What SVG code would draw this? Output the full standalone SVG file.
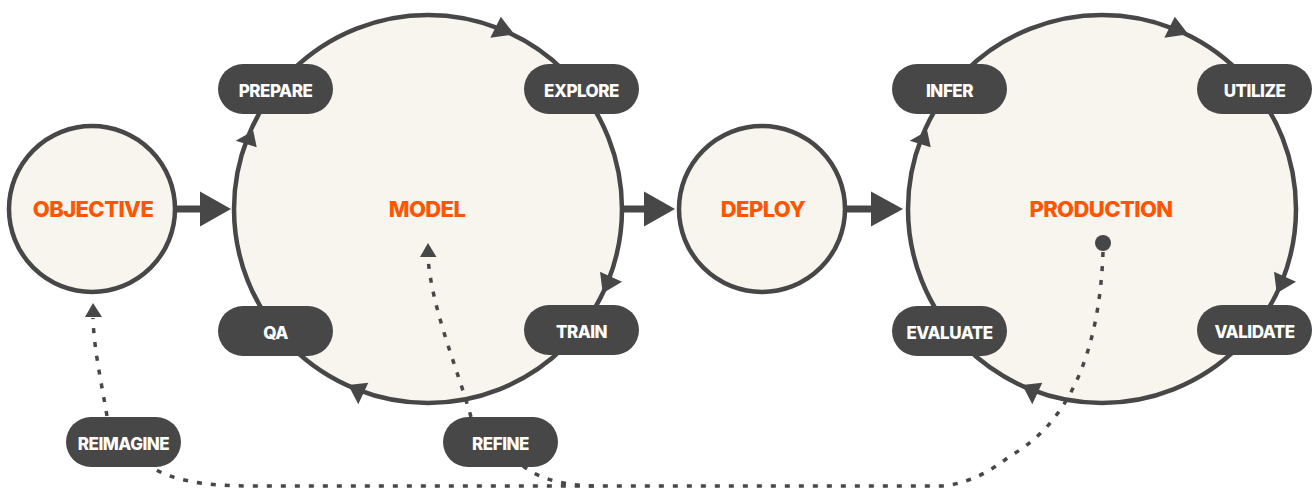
<svg xmlns="http://www.w3.org/2000/svg" width="1314" height="492" viewBox="0 0 1314 492">
<defs>
<style>
.stage{fill:#f8f5ef;stroke:#474747;stroke-width:4.5}
.title{font-family:Inter,"Liberation Sans",sans-serif;font-weight:800;font-size:22px;fill:#ff5500;text-anchor:middle;letter-spacing:-0.6px}
.pill rect{fill:#474747}
.pill text{font-family:Inter,"Liberation Sans",sans-serif;font-weight:800;font-size:17px;fill:#ffffff;text-anchor:middle;letter-spacing:-0.5px}
.flow{stroke:#474747;stroke-width:7;fill:none}
.head{fill:#474747}
.dash{stroke:#474747;stroke-width:3.5;fill:none;stroke-dasharray:5 9}
</style>
<g id="cycleArrows">
<polygon class="head" points="500.8,16.7 490.3,37.7 514.3,34.3"/>
<polygon class="head" points="253.3,130.7 235.7,140.7 256.7,147.3"/>
<polygon class="head" points="600,271.7 622,281.7 602.7,293.3"/>
<polygon class="head" points="348.3,385 368.3,382.7 358.3,404.3"/>
</g>
</defs>
<rect width="1314" height="492" fill="#ffffff"/>

<g id="objective">
<circle class="stage" cx="92" cy="209" r="83"/>
<text class="title" x="93" y="217">OBJECTIVE</text>
</g>
<g id="model">
<circle class="stage" cx="428" cy="209" r="194"/>
<use href="#cycleArrows"/>
<text class="title" x="427" y="217">MODEL</text>
</g>
<g id="deploy">
<circle class="stage" cx="762" cy="209" r="83"/>
<text class="title" x="763" y="217">DEPLOY</text>
</g>
<g id="production">
<circle class="stage" cx="1102" cy="209" r="194"/>
<use href="#cycleArrows" transform="translate(674,0)"/>
<text class="title" x="1101" y="217">PRODUCTION</text>
<circle cx="1103" cy="243" r="8" fill="#474747"/>
</g>

<g id="connectors">
<line class="flow" x1="175" y1="209" x2="202" y2="209"/>
<polygon class="head" points="200,191.5 231,209 200,226.5"/>
<line class="flow" x1="623" y1="209" x2="646" y2="209"/>
<polygon class="head" points="644,191.5 675,209 644,226.5"/>
<line class="flow" x1="846" y1="209" x2="873" y2="209"/>
<polygon class="head" points="871,191.5 903,209 871,226.5"/>

<path class="dash" d="M107 416 C101 380 94 350 93 318"/>
<polygon class="head" points="93,303 85,317 102,317"/>
<path class="dash" d="M471 417 C458 370 432 310 428 258"/>
<polygon class="head" points="428,243 420,257 436.5,257"/>
<path class="dash" d="M1103 252 C1100 340 1075 420 1010 456 C990 472 970 482 945 486 L250 486 C205 486 170 480 152 467"/>
<path class="dash" d="M523 466 C535 475 555 486 600 486"/>
</g>

<g id="prepare" class="pill"><rect x="218" y="64" width="115" height="50" rx="25"/><text x="275.5" y="97">PREPARE</text></g>
<g id="explore" class="pill"><rect x="524" y="64" width="115" height="50" rx="25"/><text x="581.5" y="97">EXPLORE</text></g>
<g id="qa" class="pill"><rect x="218" y="306" width="115" height="50" rx="25"/><text x="275.5" y="339">QA</text></g>
<g id="train" class="pill"><rect x="524" y="305" width="115" height="50" rx="25"/><text x="581.5" y="338">TRAIN</text></g>
<g id="reimagine" class="pill"><rect x="66" y="417" width="115" height="50" rx="25"/><text x="123.5" y="450">REIMAGINE</text></g>
<g id="refine" class="pill"><rect x="443" y="417" width="115" height="50" rx="25"/><text x="500.5" y="450">REFINE</text></g>
<g id="infer" class="pill"><rect x="892" y="64" width="115" height="50" rx="25"/><text x="949.5" y="97">INFER</text></g>
<g id="utilize" class="pill"><rect x="1197" y="64" width="115" height="50" rx="25"/><text x="1254.5" y="97">UTILIZE</text></g>
<g id="evaluate" class="pill"><rect x="892" y="306" width="115" height="50" rx="25"/><text x="949.5" y="339">EVALUATE</text></g>
<g id="validate" class="pill"><rect x="1197" y="305" width="115" height="50" rx="25"/><text x="1254.5" y="338">VALIDATE</text></g>
</svg>
